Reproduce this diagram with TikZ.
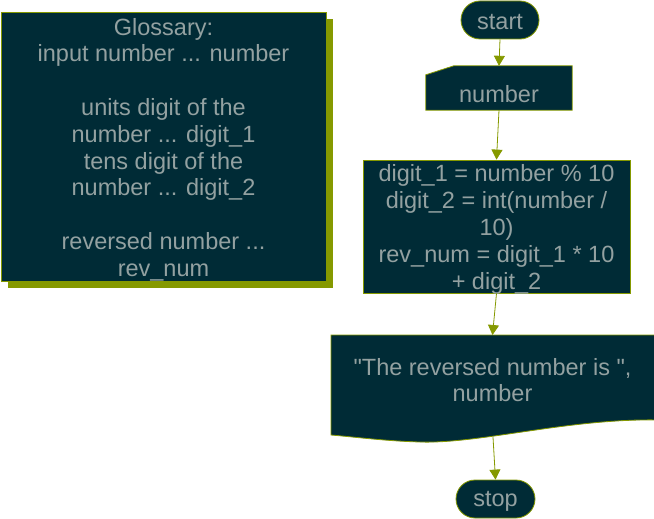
\documentclass[tikz,border=0pt]{standalone}
\usepackage{fontspec}
\setmainfont{Liberation Sans}
\newfontfamily\plainsans{Liberation Sans}
\usetikzlibrary{arrows.meta,shadows}
\definecolor{bg}{HTML}{002B36}
\definecolor{ol}{HTML}{859900}
\definecolor{tx}{HTML}{93A1A1}
\tikzset{
  box/.style={fill=bg, draw=ol, line width=0.8pt, inner sep=0pt},
  txt/.style={inner sep=0pt, text=tx, align=center, font=\plainsans\fontsize{23.5}{26.8}\selectfont},
  shp/.style={fill=bg, draw=ol, line width=0.8pt},
  conn/.style={draw=ol, line width=0.8pt, -{Triangle[length=10pt,width=11pt]}}
}
\begin{document}
\begin{tikzpicture}[x=1pt,y=-1pt]
\useasboundingbox (0,0) rectangle (654,519);
\clip (0,0) rectangle (654,519);
% glossary
\node[box, minimum width=325, minimum height=269,
  drop shadow={shadow xshift=7pt, shadow yshift=-7pt, fill=ol, opacity=1}] (gl) at (163.5,146.5) {};
\node[txt] (gltxt) at (163.5,149.5)
  {Glossary:\\input number ... number\\\mbox{}\\units digit of the\\number ... digit\_1\\tens digit of the\\number ... digit\_2\\\mbox{}\\reversed number ...\\rev\_num};
% start
\node[box, minimum width=78, minimum height=38, rounded corners=19pt] (start) at (500,20) {};
\node[txt] (starttxt) at (500,22) {start};
% manual input
\node[inner sep=0pt, minimum width=146, minimum height=44] (num) at (499,88) {};
\path[shp] (num.south west) -- ([yshift=-9pt]num.north west) -- ([xshift=28pt]num.north west) -- (num.north east) -- (num.south east) -- cycle;
\node[txt] (numtxt) at (499,94) {number};
% process
\node[box, minimum width=267, minimum height=133] (proc) at (496.5,226.5) {};
\node[txt] (proctxt) at (496.5,229.5)
  {digit\_1 = number \% 10\\digit\_2 = int(number /\\10)\\rev\_num = digit\_1 * 10\\+ digit\_2};
% output document
\path[shp] (331,335) -- (660,335) -- (660,420) .. controls (570,418) and (480,444) .. (420,442)
  .. controls (385,441) and (355,437) .. (331,435) -- cycle;
\coordinate (outtop) at (492.5,335);
\coordinate (outbot) at (493,437);
\node[txt] (out) at (492.5,380) {"The reversed number is ",\\number};
% stop
\node[box, minimum width=79, minimum height=38, rounded corners=19pt] (stop) at (495.5,499) {};
\node[txt] (stoptxt) at (495.5,501) {stop};
% connectors
\draw[conn] (start.south) -- (num.north);
\draw[conn] (num.south) -- (proc.north);
\draw[conn] (proc.south) -- (outtop);
\draw[conn] (outbot) -- (stop.north);
\end{tikzpicture}
\end{document}
